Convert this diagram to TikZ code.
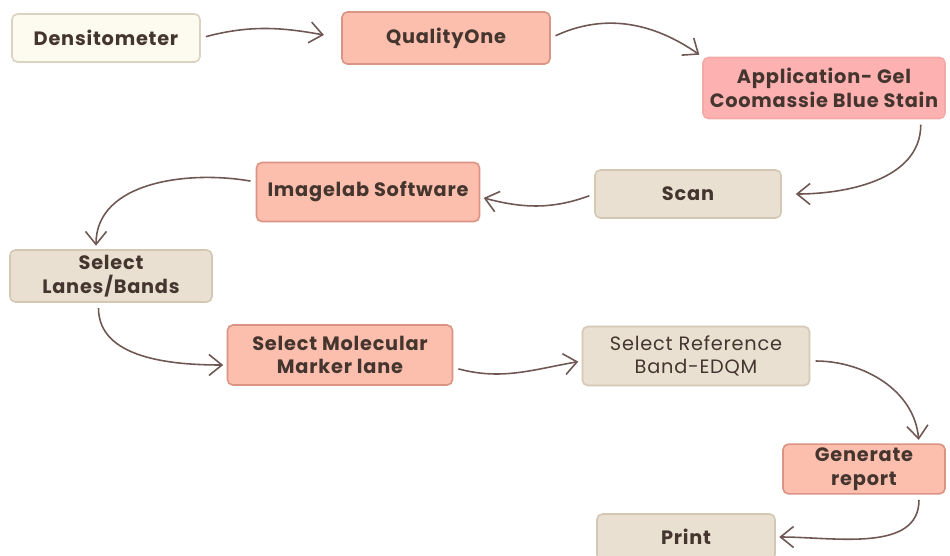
\documentclass[tikz,border=0pt]{standalone}
\usepackage{fontspec}
\setmainfont{Poppins}[LetterSpace=4]
\usetikzlibrary{arrows.meta}
\usetikzlibrary{positioning}

\definecolor{creamfill}{HTML}{FDFBF0}
\definecolor{creamline}{HTML}{DCD2C2}
\definecolor{salmonfill}{HTML}{FCBFAE}
\definecolor{salmonline}{HTML}{DB9484}
\definecolor{pinkfill}{HTML}{FDB1B1}
\definecolor{pinkline}{HTML}{F4A8A8}
\definecolor{beigefill}{HTML}{E9E0D2}
\definecolor{beigeline}{HTML}{D4C8B4}
\definecolor{inktext}{HTML}{45352F}
\definecolor{inkarrow}{HTML}{6F5753}

\tikzset{
    stepbox/.style={draw, rounded corners=3pt, line width=0.9pt, align=center,
        text=inktext, font=\bfseries\fontsize{11}{13.5}\selectfont, inner sep=2pt},
    creambox/.style={stepbox, fill=creamfill, draw=creamline},
    salmonbox/.style={stepbox, fill=salmonfill, draw=salmonline},
    pinkbox/.style={stepbox, fill=pinkfill, draw=pinkline},
    beigebox/.style={stepbox, fill=beigefill, draw=beigeline},
    flow/.style={draw=inkarrow, line width=0.9pt,
        -{Straight Barb[length=2.6mm, width=4.2mm]}, shorten >=2pt, shorten <=3pt}
}

\begin{document}
\begin{tikzpicture}[x=0.02cm, y=-0.02cm]
    \useasboundingbox (0,0) rectangle (950,555);

    \node[creambox, minimum width=3.76cm, minimum height=0.96cm] (densito) at (106,38) {Densitometer};
    \node[salmonbox, minimum width=4.16cm, minimum height=1.04cm] (quality) at (446,38) {QualityOne};
    \node[pinkbox, minimum width=4.84cm, minimum height=1.22cm] (gel) at (824,88) {Application- Gel\\Coomassie Blue Stain};
    \node[beigebox, minimum width=3.72cm, minimum height=0.96cm] (scan) at (688,194) {Scan};
    \node[salmonbox, minimum width=4.46cm, minimum height=1.18cm] (imagelab) at (368,192) {Imagelab Software};
    \node[beigebox, minimum width=4.04cm, minimum height=1.04cm] (lanes) at (111,276) {Select\\Lanes/Bands};
    \node[salmonbox, minimum width=4.5cm, minimum height=1.2cm] (marker) at (340,355) {Select Molecular\\Marker lane};
    \node[beigebox, minimum width=4.54cm, minimum height=1.18cm, font=\fontsize{11}{13.5}\selectfont] (refband) at (696,356) {Select Reference\\Band-EDQM};
    \node[salmonbox, minimum width=3.24cm, minimum height=0.92cm] (report) at (864,469) {Generate\\report};
    \node[beigebox, minimum width=3.56cm, minimum height=0.92cm] (print) at (686,537) {Print};

    \draw[flow, shorten >=10pt] (densito.east) to[out=15, in=170] (quality.west);
    \draw[flow] (quality.east) to[out=25, in=145] (gel.north west);
    \draw[flow, shorten >=8pt] ([xshift=-0.5cm]gel.south east) to[out=-90, in=0] (scan.east);
    \draw[flow] (scan.west) to[out=200, in=-15] ([yshift=-0.1cm]imagelab.east);
    \draw[flow] ([yshift=0.2cm]imagelab.west) to[out=170, in=90] ([xshift=-0.3cm]lanes.north);
    \draw[flow] ([xshift=-0.25cm]lanes.south) to[out=-90, in=180] ([yshift=-0.2cm]marker.west);
    \draw[flow] ([yshift=-0.25cm]marker.east) to[out=-15, in=190] ([yshift=-0.1cm]refband.west);
    \draw[flow] ([yshift=-0.1cm]refband.east) to[out=0, in=95] ([xshift=1.1cm]report.north);
    \draw[flow] ([xshift=1.1cm]report.south) to[out=-90, in=0] (print.east);
\end{tikzpicture}
\end{document}
